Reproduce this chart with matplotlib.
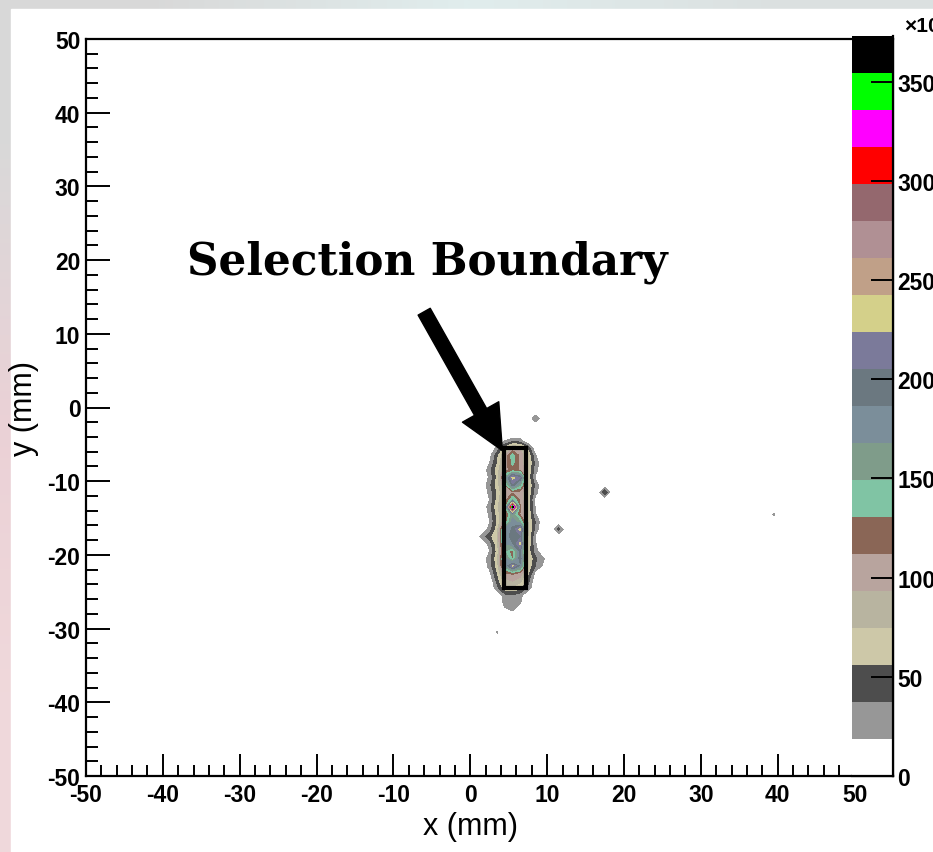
import numpy as np
import matplotlib
matplotlib.use('Agg')
import matplotlib.pyplot as plt
from matplotlib.patches import Rectangle
from matplotlib.ticker import MultipleLocator

plt.rcParams['font.family'] = ['Liberation Sans', 'DejaVu Sans']
plt.rcParams['font.weight'] = 'bold'
plt.rcParams['axes.unicode_minus'] = False

# beam spot, 1 mm bins, counts in units of 10^3
core_x = [1.5, 2.5, 3.5, 4.5, 5.5, 6.5, 7.5, 8.5, 9.5]
core_y = [-4.5, -5.5, -6.5, -7.5, -8.5, -9.5, -10.5, -11.5, -12.5, -13.5,
          -14.5, -15.5, -16.5, -17.5, -18.5, -19.5, -20.5, -21.5, -22.5,
          -23.5, -24.5, -25.5, -26.5, -27.5]
core_counts = [
    [0, 0, 0, 18, 28, 25, 0, 0, 0],
    [0, 0, 25, 60, 95, 90, 50, 0, 0],
    [0, 10, 50, 95, 140, 105, 70, 20, 0],
    [0, 18, 55, 100, 138, 102, 75, 30, 0],
    [0, 30, 65, 105, 120, 110, 70, 25, 0],
    [0, 22, 60, 150, 232, 205, 68, 15, 0],
    [0, 32, 65, 110, 200, 150, 75, 30, 0],
    [0, 25, 58, 100, 108, 104, 70, 25, 0],
    [0, 18, 62, 102, 150, 108, 66, 10, 0],
    [0, 28, 70, 105, 373, 112, 70, 15, 0],
    [0, 22, 62, 104, 160, 110, 70, 20, 0],
    [0, 18, 58, 110, 180, 150, 75, 35, 0],
    [0, 26, 65, 170, 190, 232, 78, 30, 0],
    [25, 48, 75, 175, 195, 200, 75, 15, 0],
    [0, 26, 68, 165, 185, 230, 70, 20, 0],
    [0, 18, 62, 150, 118, 190, 66, 25, 0],
    [0, 30, 68, 170, 125, 200, 75, 40, 22],
    [0, 26, 64, 160, 228, 180, 70, 35, 15],
    [0, 12, 55, 108, 115, 106, 60, 10, 0],
    [0, 0, 45, 85, 95, 80, 45, 0, 0],
    [0, 0, 30, 65, 70, 60, 30, 0, 0],
    [0, 0, 0, 30, 35, 25, 0, 0, 0],
    [0, 0, 0, 25, 28, 20, 0, 0, 0],
    [0, 0, 0, 15, 20, 10, 0, 0, 0],
]

# stray hits away from the spot
hit_x = [8.5, 17.5, 11.5, 39.5, 3.5]
hit_y = [-1.5, -11.5, -16.5, -14.5, -30.5]
hit_counts = [35, 55, 45, 22, 21]

# selection box (mm)
box_x = [4.38, 7.28]
box_y = [-24.5, -5.56]

palette = ['#979797', '#4d4d4d', '#cdc8a8', '#b8b4a0', '#b8a49e', '#8a6656',
           '#80c4a4', '#7f9c8a', '#7b8e9a', '#6b7880', '#7b7a9a', '#d4d08a',
           '#c0a088', '#b09094', '#94686e', '#ff0000', '#ff00ff', '#00ff00',
           '#000000']
cbar_ticks = [0, 50, 100, 150, 200, 250, 300, 350]

# fill the 100x100 histogram
gx, gy = np.meshgrid(core_x, core_y)
all_x = np.concatenate([gx.ravel(), hit_x])
all_y = np.concatenate([gy.ravel(), hit_y])
all_w = np.concatenate([np.array(core_counts, float).ravel(), hit_counts])
edges = np.arange(-50, 51, 1.0)
counts, _, _ = np.histogram2d(all_x, all_y, bins=[edges, edges], weights=all_w)
centers = 0.5 * (edges[:-1] + edges[1:])

zmax = counts.max()
levels = np.linspace(0, zmax, 21)

W, H = 933, 853
fig = plt.figure(figsize=(W / 100, H / 100), dpi=100)

# canvas background
bg = fig.add_axes([0, 0, 1, 1], zorder=-10)
bg_cols = [[(0.85, 0.85, 0.85), (0.88, 0.93, 0.93), (0.86, 0.88, 0.88)],
           [(0.92, 0.82, 0.84), (1, 1, 1), (1, 1, 1)],
           [(0.94, 0.85, 0.86), (1, 1, 1), (1, 1, 1)]]
bg.imshow(bg_cols, extent=[0, 1, 0, 1], aspect='auto', interpolation='bilinear')
bg.add_patch(Rectangle((11 / W, 0), 1, (H - 10) / H, color='white'))
bg.set_xlim(0, 1)
bg.set_ylim(0, 1)
bg.axis('off')

ax = fig.add_axes([86 / W, (H - 777) / H, (893 - 86) / W, (777 - 40) / H])
ax.contourf(centers, centers, counts.T, levels=levels[1:], colors=palette)
ax.add_patch(Rectangle((box_x[0], box_y[0]), box_x[1] - box_x[0],
                       box_y[1] - box_y[0], fill=False, lw=3, ec='black', zorder=5))

ax.set_xlim(-50, 55)
ax.set_ylim(-50, 50)
ax.set_xticks(np.arange(-50, 51, 10))
ax.set_yticks(np.arange(-50, 51, 10))
ax.xaxis.set_minor_locator(MultipleLocator(2))
ax.yaxis.set_minor_locator(MultipleLocator(2))
ax.tick_params(which='both', direction='in', top=False, right=False,
               labelsize=16.5, width=1.4)
ax.tick_params(axis='x', which='major', length=16, pad=5)
ax.tick_params(axis='x', which='minor', length=8)
ax.tick_params(axis='y', which='major', length=17, pad=4)
ax.tick_params(axis='y', which='minor', length=8.5)
for s in ax.spines.values():
    s.set_linewidth(1.6)

ax.set_xlabel('x (mm)', fontsize=22)
ax.xaxis.set_label_coords(0.476, -0.048)
ax.set_ylabel('y (mm)', fontsize=22)
ax.yaxis.set_label_coords(-0.058, 0.5)

ax.text(-5.6, 19.9, 'Selection Boundary', family='DejaVu Serif',
        fontsize=31.5, fontweight='bold', ha='center', va='center')
ax.annotate('', xy=(box_x[0] - 0.2, box_y[1] - 0.3), xytext=(-6.0, 13.0),
            arrowprops=dict(arrowstyle='simple,head_length=32,head_width=30,tail_width=10',
                            mutation_scale=1, fc='black', ec='black',
                            shrinkA=0, shrinkB=0))

# palette
cax = fig.add_axes([852 / W, (H - 777) / H, (893 - 852) / W, (777 - 37) / H])
cax.set_facecolor('white')
cax.bar(0.5, np.diff(levels[1:]), bottom=levels[1:-1], width=1.0,
        color=palette, align='center')
cax.set_xlim(0, 1)
cax.set_ylim(0, zmax)
cax.set_xticks([])
cax.yaxis.tick_right()
cax.set_yticks(cbar_ticks)
cax.tick_params(axis='y', direction='in', length=16, width=1.4, pad=3, labelsize=16.5)
cax.spines['left'].set_visible(False)
cax.spines['top'].set_visible(False)
cax.spines['right'].set_linewidth(1.6)
cax.spines['bottom'].set_linewidth(1.6)
fig.text(904 / W, (H - 27) / H, '×10³', fontsize=15, va='center', ha='left')

fig.savefig('out.png', dpi=100)
